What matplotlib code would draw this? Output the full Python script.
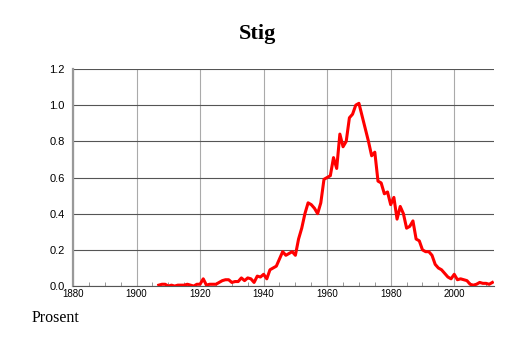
import matplotlib
matplotlib.use("Agg")
import matplotlib.pyplot as plt
from matplotlib.ticker import MultipleLocator

years = list(range(1907, 2013))
values = [
    0.005, 0.01, 0.01, 0.0, 0.005, 0.0, 0.005, 0.005, 0.005, 0.01,   # 1907-1916
    0.005, 0.0, 0.01, 0.01, 0.04, 0.005, 0.01, 0.01, 0.01, 0.02,     # 1917-1926
    0.03, 0.035, 0.035, 0.02, 0.025, 0.025, 0.045, 0.03, 0.045, 0.04,  # 1927-1936
    0.02, 0.055, 0.05, 0.065, 0.04, 0.09, 0.1, 0.11, 0.15, 0.19,     # 1937-1946
    0.17, 0.18, 0.19, 0.17, 0.26, 0.32, 0.4, 0.46, 0.45, 0.43,       # 1947-1956
    0.4, 0.46, 0.59, 0.6, 0.61, 0.71, 0.65, 0.84, 0.77, 0.8,         # 1957-1966
    0.93, 0.95, 1.0, 1.01, 0.94, 0.87, 0.8, 0.72, 0.74, 0.58,        # 1967-1976
    0.57, 0.51, 0.52, 0.45, 0.49, 0.37, 0.44, 0.4, 0.32, 0.33,       # 1977-1986
    0.36, 0.26, 0.25, 0.2, 0.19, 0.19, 0.17, 0.12, 0.1, 0.09,        # 1987-1996
    0.07, 0.05, 0.04, 0.065, 0.035, 0.04, 0.035, 0.03, 0.01, 0.005,  # 1997-2006
    0.01, 0.02, 0.015, 0.015, 0.01, 0.02,                            # 2007-2012
]

title = "Stig"
ylabel = "Prosent"
yticks = [0.0, 0.2, 0.4, 0.6, 0.8, 1.0, 1.2]
xticks = [1880, 1900, 1920, 1940, 1960, 1980, 2000]

fig = plt.figure(figsize=(5.14, 3.43), dpi=100)
ax = fig.add_axes([0.142, 0.166, 0.819, 0.633])

ax.plot(years, values, color="#ff0000", linewidth=2.2, zorder=3)

ax.set_xlim(1880, 2012.5)
ax.set_ylim(0, 1.2)
ax.set_xticks(xticks)
ax.set_yticks(yticks)
ax.set_yticklabels([f"{v:.1f}" for v in yticks], fontsize=8,
                   family="Liberation Sans")
ax.set_xticklabels([str(x) for x in xticks], fontsize=7,
                   family="Liberation Sans")
ax.xaxis.set_minor_locator(MultipleLocator(5))

ax.yaxis.grid(True, color="#555555", linewidth=0.8)
ax.xaxis.grid(True, color="#aaaaaa", linewidth=0.8)
ax.set_axisbelow(True)

for side in ("top", "right"):
    ax.spines[side].set_visible(False)
ax.spines["left"].set_color("#999999")
ax.spines["left"].set_linewidth(1.6)
ax.spines["bottom"].set_color("#555555")
ax.spines["bottom"].set_linewidth(0.8)

ax.tick_params(axis="y", length=0, pad=6)
ax.tick_params(axis="x", which="major", length=0, pad=2)
ax.tick_params(axis="x", which="minor", length=3, direction="in",
               color="#888888")

fig.text(0.5, 0.9, title, ha="center", va="center", fontsize=16,
         fontweight="bold", family="Liberation Serif")
fig.text(0.062, 0.072, ylabel, ha="left", va="center", fontsize=11.5,
         family="Liberation Serif")

fig.savefig("out.png", dpi=100)
